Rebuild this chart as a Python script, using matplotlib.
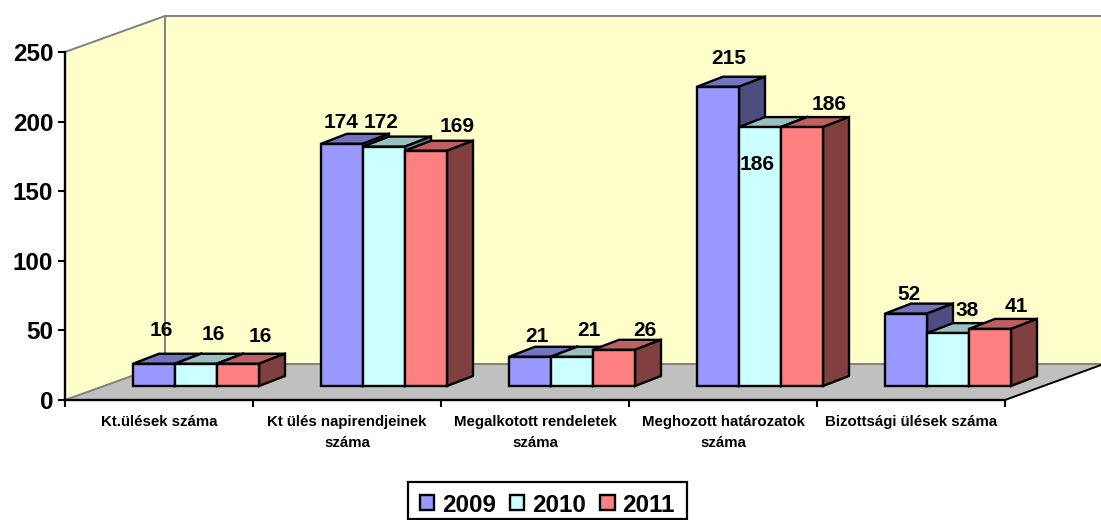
import matplotlib
matplotlib.use("Agg")
import matplotlib.pyplot as plt
from matplotlib.patches import Polygon, Patch, Rectangle
from matplotlib.transforms import Affine2D

plt.rcParams["font.family"] = ["Liberation Sans", "DejaVu Sans"]
plt.rcParams["font.weight"] = "bold"

categories = ["Kt.ülések száma", "Kt ülés napirendjeinek\nszáma",
              "Megalkotott rendeletek\nszáma", "Meghozott határozatok\nszáma",
              "Bizottsági ülések száma"]
years = ["2009", "2010", "2011"]
values_2009 = [16, 174, 21, 215, 52]
values_2010 = [16, 172, 21, 186, 38]
values_2011 = [16, 169, 26, 186, 41]
yticks = [0, 50, 100, 150, 200, 250]

# front, top, side colours per series
FRONT = ["#9999FF", "#CCFFFF", "#FF8080"]
TOP = ["#7373BF", "#99BFBF", "#BF6060"]
SIDE = ["#4D4D80", "#668080", "#804040"]
WALL = "#FFFFCC"
FLOOR = "#C0C0C0"
GREY = "#808080"

W, H = 1101, 520
X0, Y0, X1, Y250 = 65, 400, 1005, 52
PX_X = (X1 - X0) / len(categories)   # pixels per category
PX_Y = (Y0 - Y250) / 250             # pixels per value unit
BAR_W = 42 / PX_X
BAR_START = 68 / PX_X
DEPTH_X, DEPTH_Y = 26, 10            # bar depth in pixels
LIFT = 14                            # bars stand this far back on the floor

fig = plt.figure(figsize=(W / 100, H / 100), dpi=100, facecolor="white")
ax = fig.add_axes([X0 / W, 1 - Y0 / H, (X1 - X0) / W, (Y0 - Y250) / H])
ax.set_xlim(0, len(categories))
ax.set_ylim(0, 250)
ax.patch.set_visible(False)

# pixel coordinates, origin top left, for the walls and the labels
px = Affine2D().scale(1 / W, -1 / H).translate(0, 1) + fig.transFigure

# ---- walls and floor -------------------------------------------------------
ax.add_patch(Polygon([(65, 400), (65, 52), (165, 16), (1101, 16), (1101, 364), (165, 364)],
                     fc=WALL, ec="none", transform=px, clip_on=False, zorder=0))
ax.add_patch(Polygon([(65, 400), (1005, 400), (1101, 365), (165, 364)],
                     fc=FLOOR, ec="none", transform=px, clip_on=False, zorder=0.5))
for xs, ys, color in [((65, 165, 1101), (52, 16, 16), GREY),
                      ((165, 165), (16, 364), GREY),
                      ((65, 165, 1101), (400, 364, 364), GREY),
                      ((1005, 1101), (400, 365), "black")]:
    ax.plot(xs, ys, color=color, lw=1.4, transform=px, clip_on=False, zorder=1)


# ---- bars ------------------------------------------------------------------
def bar3d(x, v, i):
    """Front, top and side of one bar, x and v in data units."""
    dx, dy = DEPTH_X / PX_X, DEPTH_Y / PX_Y
    b = LIFT / PX_Y
    t = b + v
    x2 = x + BAR_W
    faces = [([(x, t), (x + dx, t + dy), (x2 + dx, t + dy), (x2, t)], TOP[i]),
             ([(x2, b), (x2 + dx, b + dy), (x2 + dx, t + dy), (x2, t)], SIDE[i]),
             ([(x, b), (x2, b), (x2, t), (x, t)], FRONT[i])]
    for pts, color in faces:
        ax.add_patch(Polygon(pts, fc=color, ec="black", lw=1.7, joinstyle="miter",
                             clip_on=False, zorder=3))


for c in range(len(categories)):
    for i, series in enumerate([values_2009, values_2010, values_2011]):
        bar3d(c + BAR_START + i * BAR_W, series[c], i)

# ---- data labels, Excel put these by hand ----------------------------------
label_px = [[(161, 331), (213, 335), (260, 337)],
            [(341, 123), (381, 122), (457, 127)],
            [(537, 337), (589, 330), (645, 330)],
            [(729, 59), (757, 165), (829, 105)],
            [(909, 294), (967, 310), (1016, 307)]]
for c, series in enumerate(zip(values_2009, values_2010, values_2011)):
    for v, (lx, ly) in zip(series, label_px[c]):
        ax.text(lx, ly, str(v), transform=px, ha="center", va="center",
                fontsize=15, fontweight="bold", color="black", zorder=5)

# ---- axes ------------------------------------------------------------------
for side in ("top", "right"):
    ax.spines[side].set_visible(False)
for side in ("left", "bottom"):
    ax.spines[side].set_linewidth(1.7)
ax.set_yticks(yticks)
ax.set_yticklabels([str(t) for t in yticks], fontsize=17.5, fontweight="bold")
ax.tick_params(axis="y", length=5, width=1.5, pad=3.5)
ax.set_xticks(range(len(categories) + 1))
ax.set_xticklabels([])
ax.tick_params(axis="x", which="major", length=5, width=1.5)
ax.set_xticks([c + 0.5 for c in range(len(categories))], minor=True)
ax.set_xticklabels(categories, minor=True, fontsize=10.8, fontweight="bold", linespacing=1.65)
ax.tick_params(axis="x", which="minor", length=0, pad=10.5)

# ---- legend ----------------------------------------------------------------
ax.add_patch(Rectangle((408, 482), 279, 37, fc="white", ec="black", lw=1.6,
                       transform=px, clip_on=False, zorder=6))
handles = [Patch(fc=FRONT[i], ec="black", lw=1.7, label=years[i]) for i in range(3)]
leg = fig.legend(handles=handles, ncol=3, loc="center", bbox_to_anchor=(547.5, 505),
                 bbox_transform=px, fontsize=17.5, frameon=False,
                 handlelength=0.58, handleheight=0.58,
                 handletextpad=0.33, columnspacing=0.58, borderpad=0, borderaxespad=0)

fig.savefig("out.png", dpi=100)
